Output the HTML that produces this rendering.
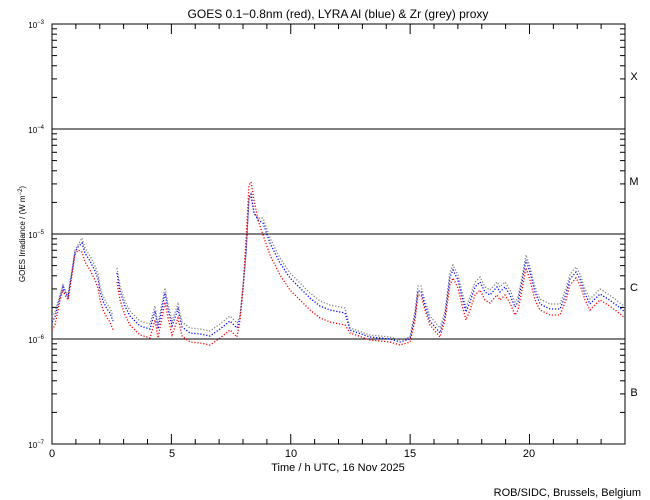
<!DOCTYPE html>
<html><head><meta charset="utf-8"><style>
body{margin:0;background:#fff;}
svg{display:block;font-family:"Liberation Sans",sans-serif;}
</style></head><body>
<svg id="s" width="650" height="500" xmlns="http://www.w3.org/2000/svg">
<rect width="650" height="500" fill="#fff"/>
<text x="338" y="18" font-size="12" text-anchor="middle">GOES 0.1−0.8nm (red), LYRA Al (blue) &amp; Zr (grey) proxy</text>
<g id="ax" stroke="#000" stroke-width="1" fill="none"></g>
<g font-size="11" text-anchor="middle">
<text x="52" y="457">0</text><text x="172" y="457">5</text><text x="291" y="457">10</text><text x="410" y="457">15</text><text x="529" y="457">20</text>
<text x="338" y="471">Time / h UTC, 16 Nov 2025</text>
<text x="634" y="80">X</text><text x="634" y="185">M</text><text x="634" y="291">C</text><text x="634" y="396">B</text>
</g>
<g font-size="8" text-anchor="end">
<text x="44" y="28">10<tspan dy="-4" font-size="6">−3</tspan></text>
<text x="44" y="133">10<tspan dy="-4" font-size="6">−4</tspan></text>
<text x="44" y="238">10<tspan dy="-4" font-size="6">−5</tspan></text>
<text x="44" y="343">10<tspan dy="-4" font-size="6">−6</tspan></text>
<text x="44" y="448">10<tspan dy="-4" font-size="6">−7</tspan></text>
</g>
<text transform="translate(25,234) rotate(-90)" font-size="8" text-anchor="middle">GOES Irradiance / (W m<tspan dy="-3" font-size="6">−2</tspan><tspan dy="3">)</tspan></text>
<text x="641" y="496" font-size="11" text-anchor="end">ROB/SIDC, Brussels, Belgium</text>
<g id="d"></g>
</svg>
<script>
var ax=document.getElementById('ax'),s='';
var L=52,R=625,T=24,B=444;
s+='<rect x="'+L+'" y="'+T+'" width="'+(R-L)+'" height="'+(B-T)+'"/>';
[129,234,339].forEach(function(y){s+='<line x1="'+L+'" x2="'+R+'" y1="'+y+'" y2="'+y+'"/>';});
for(var h=1;h<24;h++){var x=L+23.875*h,len=(h%5==0)?10:5;
s+='<line x1="'+x+'" x2="'+x+'" y1="'+B+'" y2="'+(B-len)+'"/><line x1="'+x+'" x2="'+x+'" y1="'+T+'" y2="'+(T+len)+'"/>';}
for(var d=0;d<4;d++){for(var m=2;m<=9;m++){var y=B-105*d-105*Math.log10(m);
s+='<line x1="'+L+'" x2="'+(L+5)+'" y1="'+y+'" y2="'+y+'"/><line x1="'+R+'" x2="'+(R-5)+'" y1="'+y+'" y2="'+y+'"/>';}}
ax.innerHTML=s;
var segs=[[[52,330],[55,325],[60,300],[63,290],[65,295],[68,300],[72,275],[75,255],[78,250],[82,252],[85,262],[90,270],[95,280],[98,288],[100,300],[103,310],[107,318],[110,322],[113,330]],
[[117,282],[120,300],[125,315],[130,325],[140,335],[150,338],[155,320],[158,338],[165,302],[168,318],[172,335],[178,318],[182,336],[190,342],[200,343],[210,345],[220,338],[230,330],[237,337],[240,320],[243,290],[246,240],[249,185],[251,182],[254,200],[258,220],[263,235],[270,255],[280,275],[290,290],[300,300],[310,310],[320,318],[330,322],[345,325],[350,333],[370,340],[390,342],[400,345],[410,342],[415,320],[418,295],[421,295],[425,310],[430,325],[440,337],[445,320],[450,285],[453,278],[458,288],[462,305],[466,320],[470,310],[475,295],[480,290],[485,300],[490,303],[497,295],[500,300],[505,295],[510,303],[515,315],[518,310],[522,290],[526,268],[530,280],[535,300],[540,310],[550,315],[560,315],[566,300],[570,285],[576,278],[580,285],[585,300],[590,310],[595,305],[600,300],[608,305],[615,310],[625,318]]];
function off(x){if(x<60)return 8;if(x<80)return 3;if(x<240)return 9;if(x<246)return 2;if(x<256)return -12;if(x<262)return 0;if(x<350)return 12;if(x<412)return 3;if(x<446)return 4;if(x<540)return 8;return 6;}
function path(pts){return 'M'+pts.map(function(p){return p[0]+','+p[1];}).join('L');}
var g='';
segs.forEach(function(red){
var blue=red.map(function(p){return [p[0],p[1]-off(p[0])];});
var grey=red.map(function(p){var o=off(p[0]);return [p[0],p[1]-o-(o>3?5:(o<0?-2:2))];});
g+='<path d="'+path(grey)+'" fill="none" stroke="#808080" stroke-width="1.3" stroke-dasharray="1.2 1.8"/>';
g+='<path d="'+path(blue)+'" fill="none" stroke="#0000ff" stroke-width="1.3" stroke-dasharray="1.2 1.8"/>';
g+='<path d="'+path(red)+'" fill="none" stroke="#ff0000" stroke-width="1.3" stroke-dasharray="1.2 1.8"/>';
});
document.getElementById('d').innerHTML=g;
</script>
</body></html>
